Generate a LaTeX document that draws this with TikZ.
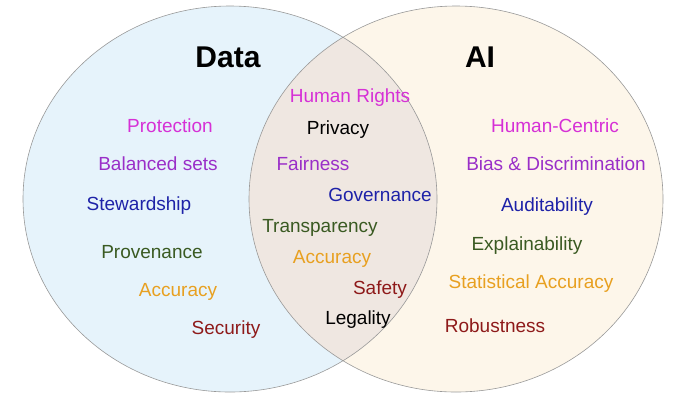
\documentclass[tikz,border=0pt]{standalone}
\usepackage{fontspec}
\setmainfont{Liberation Sans}
\usepackage{tikz}
\definecolor{datafill}{HTML}{E6F3FB}
\definecolor{aifill}{HTML}{FDF6EA}
\definecolor{bothfill}{HTML}{EFE7E1}
\definecolor{cmag}{HTML}{D630D6}
\definecolor{cvio}{HTML}{9A2FC8}
\definecolor{cblue}{HTML}{1E22A8}
\definecolor{cgreen}{HTML}{3A5A22}
\definecolor{corange}{HTML}{E8A020}
\definecolor{cred}{HTML}{8E1A1A}
\tikzset{
  term/.style={font=\fontsize{19}{22}\selectfont, inner sep=1pt},
  head/.style={font=\bfseries\fontsize{30}{34}\selectfont, inner sep=1pt},
  set/.style={draw=gray!80, line width=0.6pt}
}
\begin{document}
\begin{tikzpicture}[x=1pt,y=-1pt]
                \useasboundingbox (0,0) rectangle (700,400);
                \fill[datafill] (230,199) ellipse (207 and 193);
                \fill[aifill] (456,199) ellipse (207 and 193);
                \begin{scope}
                    \clip (230,199) ellipse (207 and 193);
                    \fill[bothfill] (456,199) ellipse (207 and 193);
                \end{scope}
                \draw[set] (230,199) ellipse (207 and 193);
                \draw[set] (456,199) ellipse (207 and 193);
                \node[head] (data) at (228,57) {Data};
                \node[head] (ai) at (480,57) {AI};
                % data only
                \node[term, text=cmag] (protection) at (170,126) {Protection};
                \node[term, text=cvio] (balanced) at (158,164) {Balanced sets};
                \node[term, text=cblue] (stewardship) at (139,206) {Stewardship};
                \node[term, text=cgreen] (provenance) at (152,252) {Provenance};
                \node[term, text=corange] (accuracyd) at (178,292) {Accuracy};
                \node[term, text=cred] (security) at (226,330) {Security};
                % both
                \node[term, text=cmag] (rights) at (350,98) {Human Rights};
                \node[term, text=black] (privacy) at (338,130) {Privacy};
                \node[term, text=cvio] (fairness) at (313,164) {Fairness};
                \node[term, text=cblue] (governance) at (380,195) {Governance};
                \node[term, text=cgreen] (transparency) at (320,228) {Transparency};
                \node[term, text=corange] (accuracyb) at (332,259) {Accuracy};
                \node[term, text=cred] (safety) at (380,290) {Safety};
                \node[term, text=black] (legality) at (358,320) {Legality};
                % ai only
                \node[term, text=cmag] (centric) at (555,126) {Human-Centric};
                \node[term, text=cvio] (bias) at (556,164) {Bias \& Discrimination};
                \node[term, text=cblue] (auditability) at (547,207) {Auditability};
                \node[term, text=cgreen] (explainability) at (527,246) {Explainability};
                \node[term, text=corange] (statistical) at (531,284) {Statistical Accuracy};
                \node[term, text=cred] (robustness) at (495,326) {Robustness};
            \end{tikzpicture}
\end{document}
